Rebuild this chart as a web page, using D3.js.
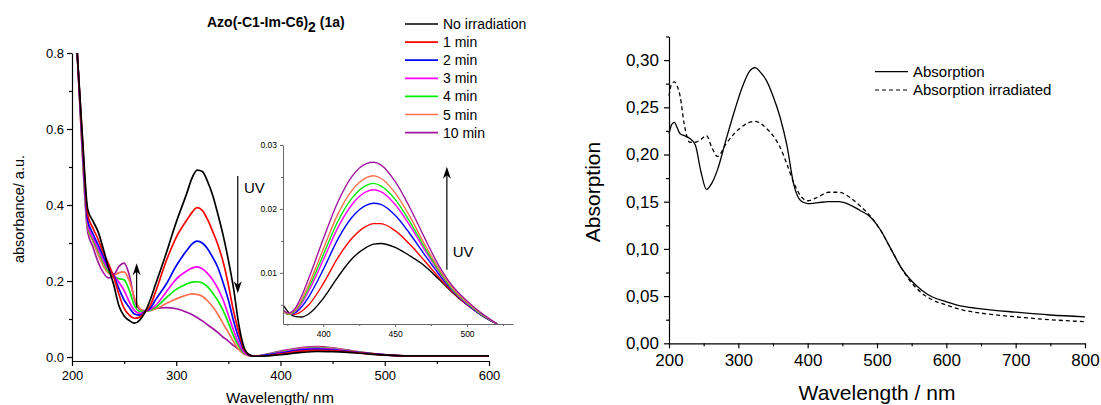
<!DOCTYPE html>
<html>
<head>
<meta charset="utf-8">
<script src="https://cdn.jsdelivr.net/npm/d3@7"></script>
<style>
  body { margin: 0; background: #fff; }
  svg text { font-family: Arial, "Liberation Sans", sans-serif; }
</style>
</head>
<body>
<svg id="chart" width="1101" height="405"></svg>
<script>
// ---------- data: left panel (UV-vis under irradiation) ----------
const seriesLabels = ['No irradiation', '1 min', '2 min', '3 min', '4 min', '5 min', '10 min'];

const uvWavelength = [205, 210, 215, 220, 225, 230, 235, 240, 245, 250, 255, 260, 265, 270, 275, 280,
  290, 300, 310, 315, 320, 325, 330, 335, 340, 345, 350, 355, 360, 365, 370, 375,
  380, 400, 420, 435, 450, 470, 500, 520, 550, 600];

const uvNoIrr = [0.80, 0.58, 0.39, 0.358, 0.33, 0.285, 0.235, 0.19, 0.135, 0.108, 0.096, 0.089, 0.097, 0.118, 0.15, 0.19,
  0.27, 0.355, 0.43, 0.47, 0.492, 0.488, 0.462, 0.425, 0.375, 0.32, 0.255, 0.18, 0.085, 0.025, 0.006, 0.002,
  0.002, 0.006, 0.012, 0.0145, 0.0142, 0.0112, 0.005, 0.003, 0.003, 0.003];
const uv1min = [0.80, 0.57, 0.375, 0.34, 0.31, 0.275, 0.245, 0.21, 0.165, 0.128, 0.11, 0.102, 0.105, 0.118, 0.135, 0.17,
  0.25, 0.315, 0.36, 0.38, 0.393, 0.386, 0.362, 0.33, 0.295, 0.25, 0.19, 0.12, 0.065, 0.02, 0.006, 0.002,
  0.002, 0.0083, 0.0154, 0.0177, 0.0166, 0.012, 0.005, 0.003, 0.003, 0.003];
const uv2min = [0.80, 0.56, 0.36, 0.325, 0.295, 0.265, 0.235, 0.215, 0.18, 0.15, 0.13, 0.113, 0.11, 0.12, 0.128, 0.15,
  0.19, 0.24, 0.28, 0.297, 0.305, 0.30, 0.285, 0.262, 0.235, 0.195, 0.15, 0.095, 0.05, 0.018, 0.005, 0.002,
  0.003, 0.0105, 0.0187, 0.0209, 0.019, 0.013, 0.0055, 0.003, 0.003, 0.003];
const uv3min = [0.80, 0.55, 0.35, 0.315, 0.285, 0.255, 0.23, 0.215, 0.197, 0.175, 0.145, 0.122, 0.115, 0.12, 0.125, 0.135,
  0.17, 0.205, 0.226, 0.234, 0.237, 0.232, 0.22, 0.203, 0.18, 0.15, 0.11, 0.07, 0.035, 0.012, 0.004, 0.002,
  0.003, 0.012, 0.0207, 0.023, 0.0207, 0.0138, 0.0057, 0.003, 0.003, 0.003];
const uv4min = [0.80, 0.545, 0.345, 0.31, 0.28, 0.25, 0.225, 0.212, 0.206, 0.203, 0.175, 0.135, 0.12, 0.12, 0.123, 0.13,
  0.155, 0.178, 0.192, 0.197, 0.198, 0.195, 0.185, 0.168, 0.148, 0.122, 0.09, 0.055, 0.028, 0.01, 0.004, 0.002,
  0.003, 0.0128, 0.0217, 0.024, 0.0215, 0.0142, 0.0058, 0.003, 0.003, 0.003];
const uv5min = [0.80, 0.54, 0.34, 0.305, 0.27, 0.24, 0.22, 0.215, 0.222, 0.224, 0.20, 0.155, 0.128, 0.12, 0.122, 0.126,
  0.14, 0.153, 0.163, 0.166, 0.165, 0.16, 0.148, 0.132, 0.112, 0.088, 0.065, 0.04, 0.02, 0.008, 0.003, 0.002,
  0.003, 0.0137, 0.0229, 0.0252, 0.0225, 0.0147, 0.006, 0.003, 0.003, 0.003];
const uv10min = [0.80, 0.53, 0.33, 0.29, 0.25, 0.222, 0.208, 0.215, 0.238, 0.247, 0.215, 0.15, 0.125, 0.122, 0.126, 0.128,
  0.13, 0.127, 0.118, 0.112, 0.104, 0.095, 0.085, 0.075, 0.064, 0.052, 0.042, 0.03, 0.02, 0.01, 0.004, 0.002,
  0.004, 0.0153, 0.0251, 0.0273, 0.0243, 0.0157, 0.0062, 0.003, 0.003, 0.003];

// inset: zoom on the 400-520 nm band
const insetWavelength = [372, 376, 380, 385, 390, 400, 410, 420, 430, 435, 440, 450, 460, 470, 480, 490, 500, 510, 521];
const insetNoIrr = [0.0050, 0.0038, 0.0032, 0.0031, 0.0036, 0.0060, 0.0093, 0.0122, 0.0140, 0.0145, 0.0146, 0.0140, 0.0127, 0.0112, 0.0091, 0.0069, 0.0050, 0.0034, 0.0020];
const inset1min = [0.0040, 0.0035, 0.0035, 0.0040, 0.0050, 0.0083, 0.0123, 0.0154, 0.0173, 0.0177, 0.0177, 0.0166, 0.0145, 0.0120, 0.0094, 0.0070, 0.0050, 0.0034, 0.0020];
const inset2min = [0.0040, 0.0035, 0.0037, 0.0047, 0.0063, 0.0105, 0.0152, 0.0187, 0.0206, 0.0209, 0.0207, 0.0190, 0.0162, 0.0130, 0.0099, 0.0072, 0.0051, 0.0034, 0.0020];
const inset3min = [0.0040, 0.0035, 0.0039, 0.0052, 0.0072, 0.0120, 0.0170, 0.0207, 0.0227, 0.0230, 0.0227, 0.0207, 0.0175, 0.0138, 0.0103, 0.0073, 0.0052, 0.0035, 0.0020];
const inset4min = [0.0040, 0.0035, 0.0040, 0.0055, 0.0077, 0.0128, 0.0180, 0.0217, 0.0237, 0.0240, 0.0236, 0.0215, 0.0181, 0.0142, 0.0105, 0.0074, 0.0053, 0.0035, 0.0020];
const inset5min = [0.0040, 0.0036, 0.0041, 0.0058, 0.0082, 0.0137, 0.0191, 0.0229, 0.0249, 0.0252, 0.0248, 0.0225, 0.0189, 0.0147, 0.0108, 0.0076, 0.0054, 0.0036, 0.0020];
const inset10min = [0.0042, 0.0037, 0.0043, 0.0064, 0.0092, 0.0153, 0.0210, 0.0251, 0.0271, 0.0273, 0.0269, 0.0243, 0.0203, 0.0157, 0.0113, 0.0079, 0.0056, 0.0037, 0.0020];

const leftXTicks = [200, 300, 400, 500, 600];
const leftXMinor = [250, 350, 450, 550];
const leftYTicks = [0, 0.2, 0.4, 0.6, 0.8];
const leftYMinor = [0.1, 0.3, 0.5, 0.7];
const insetXTicks = [400, 450, 500];
const insetXMinor = [375, 425, 475, 525];
const insetYTicks = [0.01, 0.02, 0.03];
const insetYMinor = [0.005, 0.015, 0.025];

// ---------- data: right panel ----------
const absWavelength = [200, 204, 208, 212, 216, 222, 230, 238, 246, 254, 262, 270, 282, 294, 306, 316, 324, 332, 340, 350,
  360, 370, 380, 390, 400, 415, 430, 445, 460, 475, 490, 505, 520, 535, 550, 565, 580, 600, 625, 650, 700, 750, 800];
const absorption = [0.222, 0.232, 0.234, 0.228, 0.222, 0.220, 0.217, 0.210, 0.182, 0.163, 0.170, 0.184, 0.215, 0.245, 0.272, 0.288, 0.292, 0.287, 0.279, 0.262,
  0.240, 0.210, 0.168, 0.151, 0.148, 0.149, 0.150, 0.150, 0.147, 0.141, 0.134, 0.120, 0.100, 0.080, 0.066, 0.056, 0.049, 0.044, 0.039, 0.0365, 0.033, 0.030, 0.028];
const absorptionIrr = [0.262, 0.275, 0.277, 0.272, 0.262, 0.232, 0.213, 0.213, 0.216, 0.220, 0.207, 0.198, 0.211, 0.222, 0.230, 0.234, 0.235, 0.233, 0.228, 0.220,
  0.208, 0.190, 0.170, 0.156, 0.151, 0.155, 0.160, 0.160, 0.155, 0.146, 0.135, 0.120, 0.100, 0.080, 0.064, 0.053, 0.046, 0.0405, 0.035, 0.032, 0.028, 0.025, 0.0229];
const rightXTicks = [200, 300, 400, 500, 600, 700, 800];
const rightXMinor = [250, 350, 450, 550, 650, 750];
const rightYTicks = [0, 0.05, 0.10, 0.15, 0.20, 0.25, 0.30];
const rightYMinor = [0.025, 0.075, 0.125, 0.175, 0.225, 0.275, 0.325];
const rightLabels = ['Absorption', 'Absorption irradiated'];

// ---------- styles ----------
const lineColors = ['#000000', '#ff0000', '#0000ff', '#ff00ff', '#00ee00', '#ff7050', '#a0189f'];

const svg = d3.select('#chart');

function drawAxis(g, scale, orient, majorTicks, minorTicks, o) {
  const mk = orient === 'left' ? d3.axisLeft : d3.axisBottom;
  const tr = orient === 'left' ? `translate(${o.at},0)` : `translate(0,${o.at})`;
  const major = g.append('g')
    .attr('transform', tr)
    .call(mk(scale).tickValues(majorTicks).tickSize(o.major).tickSizeOuter(0)
      .tickPadding(o.pad).tickFormat(o.format));
  const minor = g.append('g')
    .attr('transform', tr)
    .call(mk(scale).tickValues(minorTicks).tickSize(o.minor).tickSizeOuter(0).tickFormat(''));
  minor.select('.domain').remove();
  [major, minor].forEach(a => {
    a.selectAll('path, line').attr('stroke', o.color).attr('stroke-width', o.width);
  });
  major.attr('font-family', 'Arial, "Liberation Sans", sans-serif').attr('font-size', o.font);
  major.selectAll('text').attr('fill', '#000');
}

function drawArrow(g, x, y0, y1) {
  const dir = y1 > y0 ? 1 : -1;
  g.append('line')
    .attr('x1', x).attr('x2', x)
    .attr('y1', y0).attr('y2', y1 - dir * 8)
    .attr('stroke', '#000').attr('stroke-width', 1.2);
  g.append('path')
    .attr('d', `M${x},${y1} L${x - 4},${y1 - dir * 12} L${x},${y1 - dir * 8.5} L${x + 4},${y1 - dir * 12} Z`)
    .attr('fill', '#000');
}

// ================= left panel =================
const left = svg.append('g');
const xL = d3.scaleLinear().domain([200, 600]).range([72, 489]);
const yL = d3.scaleLinear().domain([-0.0105, 0.8]).range([361, 53]);

const uvSeries = [uvNoIrr, uv1min, uv2min, uv3min, uv4min, uv5min, uv10min];
const lineL = d3.line()
  .x(d => xL(d[0]))
  .y(d => yL(d[1]))
  .curve(d3.curveMonotoneX);

// draw 10 min first so the black curve sits on top
uvSeries.slice().reverse().forEach((vals, k) => {
  const i = uvSeries.length - 1 - k;
  left.append('path')
    .datum(uvWavelength.map((w, j) => [w, vals[j]]))
    .attr('d', lineL)
    .attr('fill', 'none')
    .attr('stroke', lineColors[i])
    .attr('stroke-width', 1.7);
});

drawAxis(left, yL, 'left', leftYTicks, leftYMinor,
  { at: 72, major: 5, minor: 3, pad: 3, format: d3.format('.1f'), color: '#000', width: 1.2, font: 13 });
drawAxis(left, xL, 'bottom', leftXTicks, leftXMinor,
  { at: 361, major: 5, minor: 3, pad: 5, format: d3.format('d'), color: '#000', width: 1.2, font: 13 });

left.append('text')
  .attr('transform', 'translate(24,209) rotate(-90)')
  .attr('text-anchor', 'middle')
  .attr('font-size', 14.5)
  .text('absorbance/ a.u.');

left.append('text')
  .attr('x', 280).attr('y', 403)
  .attr('text-anchor', 'middle')
  .attr('font-size', 15)
  .text('Wavelength/ nm');

// title
const title = left.append('text')
  .attr('x', 207).attr('y', 27)
  .attr('font-size', 14)
  .attr('font-weight', 'bold');
title.append('tspan').text('Azo(-C1-Im-C6)');
title.append('tspan').attr('dy', 5).text('2');
title.append('tspan').attr('dy', -5).text(' (1a)');

// legend
const legL = left.append('g');
seriesLabels.forEach((lab, i) => {
  const y = 24 + i * 18.1;
  legL.append('line')
    .attr('x1', 405).attr('x2', 438).attr('y1', y).attr('y2', y)
    .attr('stroke', lineColors[i]).attr('stroke-width', 1.7);
  legL.append('text')
    .attr('x', 443).attr('y', y + 5)
    .attr('font-size', 14)
    .text(lab);
});

// arrows (in data space)
drawArrow(left, xL(262), yL(0.13), yL(0.247));
drawArrow(left, xL(359), yL(0.476), yL(0.168));
left.append('text')
  .attr('x', xL(365)).attr('y', yL(0.432))
  .attr('font-size', 15)
  .text('UV');

// ----- inset -----
const inset = svg.append('g');
const xI = d3.scaleLinear().domain([372, 532]).range([283, 513]);
const yI = d3.scaleLinear().domain([0.002, 0.03]).range([324, 145]);

inset.append('clipPath').attr('id', 'insetClip')
  .append('rect')
  .attr('x', xI(372)).attr('y', yI(0.03))
  .attr('width', xI(532) - xI(372)).attr('height', yI(0.002) - yI(0.03));

const insetSeries = [insetNoIrr, inset1min, inset2min, inset3min, inset4min, inset5min, inset10min];
const lineI = d3.line()
  .x(d => xI(d[0]))
  .y(d => yI(d[1]))
  .curve(d3.curveMonotoneX);

const insetLines = inset.append('g').attr('clip-path', 'url(#insetClip)');
insetSeries.forEach((vals, i) => {
  insetLines.append('path')
    .datum(insetWavelength.map((w, j) => [w, vals[j]]))
    .attr('d', lineI)
    .attr('fill', 'none')
    .attr('stroke', lineColors[i])
    .attr('stroke-width', 1.4);
});

drawAxis(inset, yI, 'left', insetYTicks, insetYMinor,
  { at: 283, major: 3, minor: 2, pad: 3, format: d3.format('.2f'), color: '#666', width: 1, font: 8.5 });
drawAxis(inset, xI, 'bottom', insetXTicks, insetXMinor,
  { at: 324, major: 3, minor: 2, pad: 4, format: d3.format('d'), color: '#666', width: 1, font: 8.5 });

drawArrow(inset, xI(486), yI(0.0105), yI(0.0266));
inset.append('text')
  .attr('x', xI(490)).attr('y', yI(0.0125))
  .attr('font-size', 15)
  .text('UV');

// ================= right panel =================
const right = svg.append('g');
const xR = d3.scaleLinear().domain([200, 800]).range([669, 1085]);
const yR = d3.scaleLinear().domain([0, 0.325]).range([343.3, 36.5]);

const lineR = d3.line()
  .x(d => xR(d[0]))
  .y(d => yR(d[1]))
  .curve(d3.curveMonotoneX);

const rightSeries = [absorption, absorptionIrr];
const rightDash = [null, '4,3'];
rightSeries.forEach((vals, i) => {
  right.append('path')
    .datum(absWavelength.map((w, j) => [w, vals[j]]))
    .attr('d', lineR)
    .attr('fill', 'none')
    .attr('stroke', '#000')
    .attr('stroke-width', 1.3)
    .attr('stroke-dasharray', rightDash[i]);
});

const commaFmt = d => d3.format('.2f')(d).replace('.', ',');
drawAxis(right, yR, 'left', rightYTicks, rightYMinor,
  { at: 669, major: 5, minor: 3, pad: 5, format: commaFmt, color: '#000', width: 1.2, font: 17 });
drawAxis(right, xR, 'bottom', rightXTicks, rightXMinor,
  { at: 343.3, major: 5, minor: 3, pad: 6, format: d3.format('d'), color: '#000', width: 1.2, font: 17 });

right.append('text')
  .attr('transform', 'translate(600,192) rotate(-90)')
  .attr('text-anchor', 'middle')
  .attr('font-size', 21)
  .text('Absorption');

right.append('text')
  .attr('x', 877).attr('y', 400)
  .attr('text-anchor', 'middle')
  .attr('font-size', 21)
  .text('Wavelength / nm');

const legR = right.append('g');
rightLabels.forEach((lab, i) => {
  const y = 71.7 + i * 18.3;
  legR.append('line')
    .attr('x1', 875).attr('x2', 908).attr('y1', y).attr('y2', y)
    .attr('stroke', '#000').attr('stroke-width', 1.2)
    .attr('stroke-dasharray', rightDash[i]);
  legR.append('text')
    .attr('x', 913).attr('y', y + 5)
    .attr('font-size', 15)
    .text(lab);
});
</script>
</body>
</html>
